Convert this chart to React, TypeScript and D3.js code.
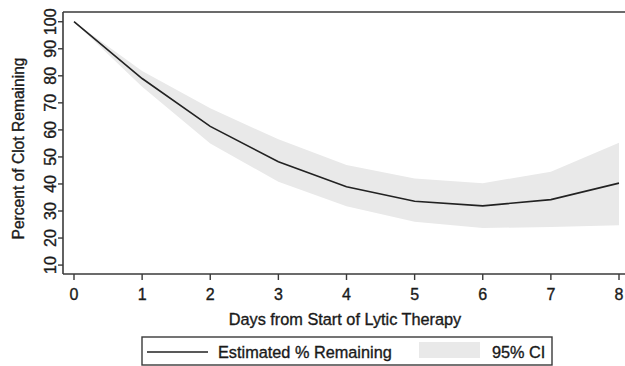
import React from "react";
import * as d3 from "d3";

const days = [0, 1, 2, 3, 4, 5, 6, 7, 8];
const estimate = [100, 79, 61.3, 48.2, 39, 33.6, 31.9, 34.2, 40.3];
const ciUpper = [100, 81.8, 68, 56.5, 47, 42, 40.3, 44.5, 55.2];
const ciLower = [100, 76, 55, 40.8, 31.8, 26, 23.7, 24.1, 24.7];
const xTicks = [0, 1, 2, 3, 4, 5, 6, 7, 8];
const yTicks = [10, 20, 30, 40, 50, 60, 70, 80, 90, 100];

const FONT = "'Liberation Sans', Arial, Helvetica, sans-serif";

export default function App() {
  const W = 625;
  const H = 366;
  const left = 63;
  const top = 12;
  const bottom = 274;
  const x = d3.scaleLinear().domain([0, 8]).range([74, 619]);
  const y = d3.scaleLinear().domain([6.7, 103.6]).range([bottom, top]);

  const pts = days.map((d, i) => ({ d, e: estimate[i], u: ciUpper[i], l: ciLower[i] }));
  const area = d3
    .area<any>()
    .x((p) => x(p.d))
    .y0((p) => y(p.l))
    .y1((p) => y(p.u))(pts);
  const line = d3
    .line<any>()
    .x((p) => x(p.d))
    .y((p) => y(p.e))(pts);

  const axisColor = "#3a3a3a";
  const textColor = "#1a1a1a";
  const textStroke = { stroke: textColor, strokeWidth: 0.35 };

  return (
    <svg
      width={W}
      height={H}
      style={{ position: "absolute", left: 0, top: 0, background: "#fff" }}
      fontFamily={FONT}
    >
      <path d={area || ""} fill="#e9e9e9" stroke="none" />
      <path d={line || ""} fill="none" stroke="#222" strokeWidth={1.6} />

      {/* top frame line */}
      <line x1={left} x2={W} y1={top} y2={top} stroke={axisColor} strokeWidth={1.6} />
      {/* left axis */}
      <line x1={left} x2={left} y1={top} y2={bottom} stroke={axisColor} strokeWidth={1.6} />
      {/* bottom axis */}
      <line x1={left} x2={W} y1={bottom} y2={bottom} stroke={axisColor} strokeWidth={1.6} />

      {yTicks.map((t) => (
        <g key={"y" + t}>
          <line x1={left - 5} x2={left} y1={y(t)} y2={y(t)} stroke={axisColor} strokeWidth={1.4} />
          <text
            transform={`translate(${56},${y(t)}) rotate(-90)`}
            textAnchor="middle"
            fontSize={16}
            fill={textColor}
            {...textStroke}
          >
            {t}
          </text>
        </g>
      ))}

      {xTicks.map((t) => (
        <g key={"x" + t}>
          <line x1={x(t)} x2={x(t)} y1={bottom} y2={bottom + 6} stroke={axisColor} strokeWidth={1.4} />
          <text x={x(t)} y={300} textAnchor="middle" fontSize={16} fill={textColor} {...textStroke}>
            {t}
          </text>
        </g>
      ))}

      <text
        transform={`translate(${23.5},${148.5}) rotate(-90)`}
        textAnchor="middle"
        fontSize={15.6}
        fill={textColor}
        {...textStroke}
      >
        Percent of Clot Remaining
      </text>
      <text x={345} y={325} textAnchor="middle" fontSize={16.3} fill={textColor} {...textStroke}>
        Days from Start of Lytic Therapy
      </text>

      {/* legend */}
      <rect x={142} y={337} width={410} height={28} fill="#fff" stroke={axisColor} strokeWidth={1.4} />
      <line x1={147} x2={208} y1={352} y2={352} stroke="#222" strokeWidth={1.6} />
      <text x={218} y={358} fontSize={16.3} fill={textColor} {...textStroke}>
        Estimated % Remaining
      </text>
      <rect x={419} y={342} width={61} height={16} fill="#e9e9e9" />
      <text x={492} y={358} fontSize={16.3} fill={textColor} {...textStroke}>
        95% CI
      </text>
    </svg>
  );
}
